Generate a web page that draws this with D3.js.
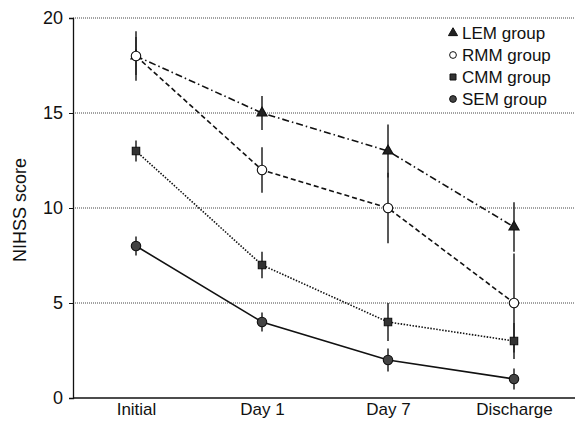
<!DOCTYPE html>
<html>
<head>
<meta charset="utf-8">
<script src="https://cdn.jsdelivr.net/npm/d3@7"></script>
<style>
  body { margin: 0; background: #fff; }
  text { font-family: Arial, "Liberation Sans", sans-serif; fill: #111; }
</style>
</head>
<body>
<div id="chart"></div>
<script>
// categories and values
var days = ["Initial", "Day 1", "Day 7", "Discharge"];
var yTicks = [0, 5, 10, 15, 20];

var lemMean = [18, 15, 13, 9],     lemErr = [1.0, 0.9, 1.4, 1.3];
var rmmMean = [18, 12, 10, 5],     rmmErr = [1.3, 1.2, 1.85, 2.6];
var cmmMean = [13, 7, 4, 3],       cmmErr = [0.55, 0.7, 1.0, 0.95];
var semMean = [8, 4, 2, 1],        semErr = [0.5, 0.5, 0.6, 0.55];

var groups = [
  {name: "LEM group", mean: lemMean, err: lemErr, dash: "7,3,1.5,3", symbol: d3.symbolTriangle, fill: "#222"},
  {name: "RMM group", mean: rmmMean, err: rmmErr, dash: "5,3", symbol: d3.symbolCircle, fill: "#fff"},
  {name: "CMM group", mean: cmmMean, err: cmmErr, dash: "1.5,1.5", symbol: d3.symbolSquare, fill: "#333"},
  {name: "SEM group", mean: semMean, err: semErr, dash: null, symbol: d3.symbolCircle, fill: "#444"}
];

var W = 575, H = 423;
var m = {left: 73, right: -2, top: 18, bottom: 25};

var svg = d3.select("#chart").append("svg")
  .attr("width", W).attr("height", H);

var x = d3.scalePoint().domain(days)
  .range([m.left + 63, W - m.right - 63]);
var y = d3.scaleLinear().domain([0, 20]).range([H - m.bottom, m.top]);

// dotted gridlines
svg.append("g").selectAll("line")
  .data(yTicks.filter(function(d){ return d > 0; }))
  .enter().append("line")
    .attr("x1", m.left).attr("x2", W)
    .attr("y1", function(d){ return y(d); })
    .attr("y2", function(d){ return y(d); })
    .attr("stroke", "#444").attr("stroke-width", 1)
    .attr("stroke-dasharray", "1,1");

// y axis
var ya = svg.append("g").attr("transform", "translate(" + m.left + ",0)")
  .call(d3.axisLeft(y).tickValues(yTicks).tickSize(4).tickPadding(6));
ya.select(".domain").attr("stroke", "#111").attr("stroke-width", 1.3);
ya.selectAll(".tick line").attr("stroke", "#111");
ya.selectAll("text").style("font-size", "18px").attr("fill", "#111");

// x axis
var xa = svg.append("g").attr("transform", "translate(0," + y(0) + ")")
  .call(d3.axisBottom(x).tickSize(0).tickPadding(5));
xa.select(".domain").attr("d", "M" + m.left + ",0H" + W).attr("stroke", "#111").attr("stroke-width", 1.3);
xa.selectAll("text").style("font-size", "17px").attr("fill", "#111");

svg.append("text")
  .attr("transform", "translate(26," + 210 + ") rotate(-90)")
  .attr("text-anchor", "middle")
  .style("font-size", "18px")
  .text("NIHSS score");

var line = d3.line()
  .x(function(d, i){ return x(days[i]); })
  .y(function(d){ return y(d); });

// error bars
groups.forEach(function(g) {
  svg.append("g").selectAll("line")
    .data(g.mean).enter().append("line")
      .attr("x1", function(d, i){ return x(days[i]); })
      .attr("x2", function(d, i){ return x(days[i]); })
      .attr("y1", function(d, i){ return y(d + g.err[i]); })
      .attr("y2", function(d, i){ return y(d - g.err[i]); })
      .attr("stroke", "#222").attr("stroke-width", 1.5);
});

// lines
groups.forEach(function(g) {
  svg.append("path").datum(g.mean)
    .attr("d", line)
    .attr("fill", "none")
    .attr("stroke", "#111")
    .attr("stroke-width", 1.6)
    .attr("stroke-dasharray", g.dash);
});

// markers
groups.forEach(function(g) {
  var size = g.symbol === d3.symbolCircle ? 70 : g.symbol === d3.symbolTriangle ? 45 : 55;
  svg.append("g").selectAll("path")
    .data(g.mean).enter().append("path")
      .attr("transform", function(d, i){ return "translate(" + x(days[i]) + "," + y(d) + ")"; })
      .attr("d", d3.symbol().type(g.symbol).size(size))
      .attr("fill", g.fill)
      .attr("stroke", "#111").attr("stroke-width", 1.1);
});

// legend
var leg = svg.append("g").attr("transform", "translate(453,33)");
groups.forEach(function(g, i) {
  var row = leg.append("g").attr("transform", "translate(0," + (i * 22) + ")");
  row.append("path")
    .attr("d", d3.symbol().type(g.symbol).size(36))
    .attr("fill", g.fill).attr("stroke", "#111").attr("stroke-width", 1);
  row.append("text")
    .attr("x", 9).attr("dy", "0.36em")
    .style("font-size", "17px")
    .text(g.name);
});
</script>
</body>
</html>
